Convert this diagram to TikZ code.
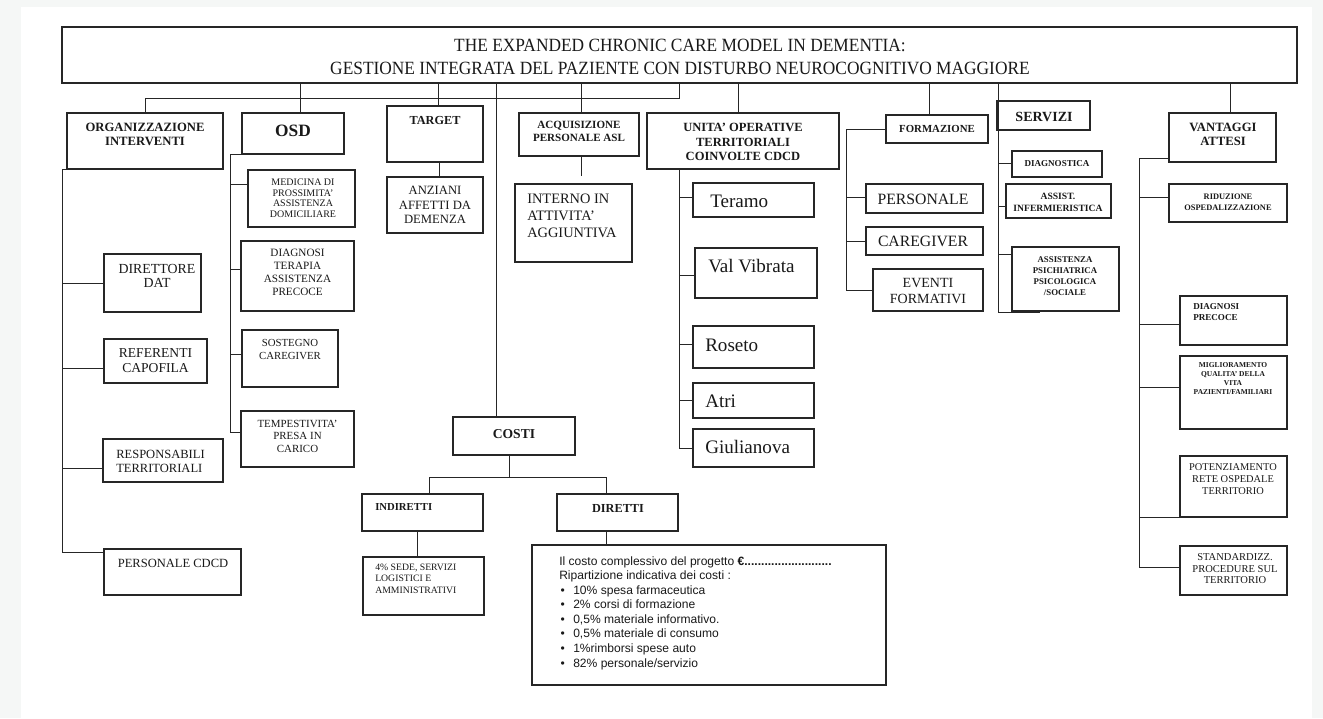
\documentclass[tikz,border=0pt]{standalone}
\usepackage{fontspec}
\setmainfont{Liberation Serif}
\newfontfamily\titlefont[FakeStretch=0.93]{Liberation Serif}
\newfontfamily\sansf{Liberation Sans}
\usetikzlibrary{fit,calc}
\definecolor{bgcol}{HTML}{F5F7F6}
\tikzset{
  box/.style={draw=black!85, line width=0.8pt, inner sep=0pt},
  conn/.style={draw=black!85, line width=0.7pt},
  lbl/.style={inner sep=0pt, align=center, text=black!90},
}
\newcommand\bx[5]{\node[box, fit={(#2,#3) (#4,#5)}] (#1) {};}
\newcommand\branch[3]{\path (#2) ++(0,#3) coordinate (bt); \draw[conn] (bt) -- (bt -| #1);}
\begin{document}
\begin{tikzpicture}[x=0.75pt,y=-0.75pt]
\useasboundingbox (0,0) rectangle (1323,718);
\fill[bgcol] (0,0) rectangle (1323,718);
\fill[white] (21,7) rectangle (1312,718);
% boxes
\bx{title}{62}{27}{1297}{83}
\bx{org}{67}{113}{223}{169}
\bx{osd}{242}{113}{344}{154}
\bx{target}{387}{106}{483}{162}
\bx{anz}{387}{177}{483}{233}
\bx{acq}{519}{113}{639}{156}
\bx{int}{515}{184}{632}{262}
\bx{unita}{647}{113}{839}{169}
\bx{teramo}{693}{183}{814}{217}
\bx{valv}{695}{248}{817}{298}
\bx{roseto}{693}{326}{814}{368}
\bx{atri}{693}{383}{814}{418}
\bx{giul}{693}{429}{814}{467}
\bx{form}{886}{115}{988}{143}
\bx{fpers}{866}{184}{983}{213}
\bx{fcare}{866}{227}{983}{255}
\bx{fevent}{873}{269}{983}{311}
\bx{serv}{997}{101}{1090}{130}
\bx{sdiag}{1012}{151}{1102}{177}
\bx{sinf}{1006}{184}{1111}{218}
\bx{spsi}{1012}{247}{1119}{311}
\bx{vant}{1169}{113}{1276}{162}
\bx{vrid}{1169}{184}{1287}{222}
\bx{vdiag}{1180}{296}{1287}{345}
\bx{vmig}{1180}{356}{1287}{429}
\bx{vpot}{1180}{456}{1287}{517}
\bx{vstd}{1180}{546}{1287}{595}
\bx{dir}{104}{254}{201}{312}
\bx{ref}{104}{339}{207}{383}
\bx{resp}{103}{439}{223}{482}
\bx{pcdcd}{104}{549}{241}{595}
\bx{med}{248}{170}{355}{227}
\bx{dtap}{241}{241}{354}{311}
\bx{sost}{242}{330}{338}{387}
\bx{temp}{241}{411}{354}{467}
\bx{costi}{453}{417}{575}{455}
\bx{ind}{362}{494}{483}{531}
\bx{dirt}{557}{494}{678}{531}
\bx{sede}{363}{557}{484}{615}
\bx{big}{532}{545}{886}{685}
% connectors from title
\draw[conn] (title.south -| 679,0) -- ++(0,15) -| (org.north);
\draw[conn] (title.south -| 300,0) -- (osd.north -| 300,0);
\draw[conn] (title.south -| 438,0) -- (target.north -| 438,0);
\draw[conn] (title.south -| 496,0) -- (costi.north -| 496,0);
\draw[conn] (title.south -| 581,0) -- (acq.north -| 581,0);
\draw[conn] (title.south -| 738,0) -- (unita.north -| 738,0);
\draw[conn] (title.south -| 929,0) -- (form.north -| 929,0);
\draw[conn] (title.south -| 1230,0) -- (vant.north -| 1230,0);
\coordinate (servsp) at (998,312);
\coordinate (servend) at (1040,312);
\draw[conn] (title.south -| servsp) -- (servsp) -- (servend);
% organizzazione
\coordinate (orgsp) at (62,552);
\draw[conn] (org.south west) -- (org.south west -| orgsp) -- (orgsp) -- (orgsp -| pcdcd.west);
\branch{orgsp}{dir.west}{0}
\branch{orgsp}{ref.west}{7}
\branch{orgsp}{resp.west}{7.5}
% osd
\coordinate (osdsp) at (230,432);
\draw[conn] (osd.south west) -- (osd.south west -| osdsp) -- (osdsp) -- (osdsp -| temp.west);
\branch{osdsp}{med.west}{-14.5}
\branch{osdsp}{dtap.west}{-7}
\branch{osdsp}{sost.west}{-4.5}
% target, acq
\draw[conn] (target.south -| 439,0) -- (anz.north -| 439,0);
\coordinate (acqend) at (581,176);
\draw[conn] (acq.south -| acqend) -- (acqend);
% unita
\coordinate (unsp) at (679,448);
\draw[conn] (unita.south -| unsp) -- (unsp) -- (unsp -| giul.west);
\branch{unsp}{teramo.west}{-3}
\branch{unsp}{valv.west}{2}
\branch{unsp}{roseto.west}{-3}
\branch{unsp}{atri.west}{0}
% formazione
\coordinate (fsp) at (846,290);
\draw[conn] (form.west) -- (form.west -| fsp) -- (fsp) -- (fsp -| fevent.west);
\branch{fsp}{fpers.west}{-1}
\branch{fsp}{fcare.west}{0}
% servizi
\branch{servsp}{sdiag.west}{-1}
\branch{servsp}{sinf.west}{5}
\branch{servsp}{spsi.west}{-25}
% vantaggi
\coordinate (vsp) at (1139,567);
\draw[conn] (vant.south west) ++(0,-4) coordinate (vtop) -- (vtop -| vsp) -- (vsp) -- (vsp -| vstd.west);
\branch{vsp}{vrid.west}{-6}
\branch{vsp}{vdiag.west}{3.5}
\branch{vsp}{vmig.west}{-5.5}
\branch{vsp}{vpot.south west}{0}
% costi
\coordinate (cmid) at (509,477);
\draw[conn] (costi.south -| cmid) -- (cmid);
\draw[conn] (ind.north -| 429,0) -- (cmid -| 429,0) -- (cmid -| 606,0) -- (dirt.north -| 606,0);
\draw[conn] (ind.south -| 417,0) -- (sede.north -| 417,0);
\draw[conn] (dirt.south -| 606,0) -- (big.north -| 606,0);
% texts
\node[lbl, font=\titlefont\fontsize{14}{17.25}\selectfont] (t-title) at (680,56.5) {THE EXPANDED CHRONIC CARE MODEL IN DEMENTIA:\\GESTIONE INTEGRATA DEL PAZIENTE CON DISTURBO NEUROCOGNITIVO MAGGIORE};
\node[lbl, font=\bfseries\fontsize{9.5}{10.5}\selectfont] (t-org) at (145,134) {ORGANIZZAZIONE\\INTERVENTI};
\node[lbl, font=\bfseries\fontsize{13}{16}\selectfont] (t-osd) at (293,131) {OSD};
\node[lbl, font=\bfseries\fontsize{9.2}{10}\selectfont] (t-target) at (435,120) {TARGET};
\node[lbl, font=\fontsize{9.5}{10.9}\selectfont] (t-anz) at (435,205) {ANZIANI\\AFFETTI DA\\DEMENZA};
\node[lbl, font=\bfseries\fontsize{8.3}{9.75}\selectfont] (t-acq) at (579,131.5) {ACQUISIZIONE\\PERSONALE ASL};
\node[lbl, align=left, anchor=west, font=\fontsize{10.8}{13}\selectfont] (t-int) at (527,216) {INTERNO IN\\ATTIVITA'\\AGGIUNTIVA};
\node[lbl, font=\bfseries\fontsize{9.4}{10.9}\selectfont] (t-unita) at (743,142) {UNITA' OPERATIVE\\TERRITORIALI\\COINVOLTE CDCD};
\node[lbl, anchor=west, font=\fontsize{14.3}{16}\selectfont] (t-teramo) at (710,201) {Teramo};
\node[lbl, anchor=west, font=\fontsize{14.3}{16}\selectfont] (t-valv) at (708,266) {Val Vibrata};
\node[lbl, anchor=west, font=\fontsize{14.3}{16}\selectfont] (t-roseto) at (705,345) {Roseto};
\node[lbl, anchor=west, font=\fontsize{14.3}{16}\selectfont] (t-atri) at (705,401) {Atri};
\node[lbl, anchor=west, font=\fontsize{14.3}{16}\selectfont] (t-giul) at (705,447) {Giulianova};
\node[lbl, font=\bfseries\fontsize{8.1}{9}\selectfont] (t-form) at (937,129) {FORMAZIONE};
\node[lbl, font=\fontsize{11.8}{13}\selectfont] (t-fpers) at (923,199) {PERSONALE};
\node[lbl, font=\fontsize{11.8}{13}\selectfont] (t-fcare) at (923,241) {CAREGIVER};
\node[lbl, font=\fontsize{10.5}{12}\selectfont] (t-fevent) at (928,291) {EVENTI\\FORMATIVI};
\node[lbl, font=\bfseries\fontsize{10.5}{12}\selectfont] (t-serv) at (1044,117) {SERVIZI};
\node[lbl, font=\bfseries\fontsize{6.8}{8}\selectfont] (t-sdiag) at (1057,164) {DIAGNOSTICA};
\node[lbl, font=\bfseries\fontsize{7.2}{9}\selectfont] (t-sinf) at (1058,202) {ASSIST.\\INFERMIERISTICA};
\node[lbl, font=\bfseries\fontsize{6.6}{8.25}\selectfont] (t-spsi) at (1065,276.5) {ASSISTENZA\\PSICHIATRICA\\PSICOLOGICA\\/SOCIALE};
\node[lbl, font=\bfseries\fontsize{9.5}{11}\selectfont] (t-vant) at (1223,134.5) {VANTAGGI\\ATTESI};
\node[lbl, font=\bfseries\fontsize{6.3}{8.25}\selectfont] (t-vrid) at (1228,202) {RIDUZIONE\\OSPEDALIZZAZIONE};
\node[lbl, align=left, anchor=west, font=\bfseries\fontsize{6.8}{8.25}\selectfont] (t-vdiag) at (1193,312.5) {DIAGNOSI\\PRECOCE};
\node[lbl, font=\bfseries\fontsize{5.6}{6.75}\selectfont] (t-vmig) at (1233,379) {MIGLIORAMENTO\\QUALITA' DELLA\\VITA\\PAZIENTI/FAMILIARI};
\node[lbl, font=\fontsize{7.8}{9}\selectfont] (t-vpot) at (1233,479) {POTENZIAMENTO\\RETE OSPEDALE\\TERRITORIO};
\node[lbl, font=\fontsize{7.9}{8.6}\selectfont] (t-vstd) at (1235,569) {STANDARDIZZ.\\PROCEDURE SUL\\TERRITORIO};
\node[lbl, font=\bfseries\fontsize{10.2}{11}\selectfont] (t-costi) at (514,434) {COSTI};
\node[lbl, anchor=west, font=\bfseries\fontsize{8}{9}\selectfont] (t-ind) at (375,507) {INDIRETTI};
\node[lbl, font=\bfseries\fontsize{9.2}{10}\selectfont] (t-dirt) at (618,508) {DIRETTI};
\node[lbl, align=left, anchor=west, font=\fontsize{7.3}{8.6}\selectfont] (t-sede) at (375,578.5) {4\% SEDE, SERVIZI\\LOGISTICI E\\AMMINISTRATIVI};
\node[lbl, font=\fontsize{10.4}{10.5}\selectfont] (t-dir) at (157,276) {DIRETTORE\\DAT};
\node[lbl, font=\fontsize{10.2}{11.25}\selectfont] (t-ref) at (155.5,360.5) {REFERENTI\\CAPOFILA};
\node[lbl, align=left, anchor=west, font=\fontsize{9.4}{10.5}\selectfont] (t-resp) at (116,461) {RESPONSABILI\\TERRITORIALI};
\node[lbl, font=\fontsize{9.4}{12}\selectfont] (t-pcdcd) at (173,563) {PERSONALE CDCD};
\node[lbl, font=\fontsize{7.5}{7.9}\selectfont] (t-med) at (303,198) {MEDICINA DI\\PROSSIMITA'\\ASSISTENZA\\DOMICILIARE};
\node[lbl, font=\fontsize{8.4}{9.75}\selectfont] (t-dtap) at (297.5,272.5) {DIAGNOSI\\TERAPIA\\ASSISTENZA\\PRECOCE};
\node[lbl, font=\fontsize{8.1}{9.75}\selectfont] (t-sost) at (290,349.5) {SOSTEGNO\\CAREGIVER};
\node[lbl, font=\fontsize{8.2}{9.4}\selectfont] (t-temp) at (297.5,436) {TEMPESTIVITA'\\PRESA IN\\CARICO};
\node[lbl, align=left, anchor=west, font=\sansf\fontsize{9.05}{10.93}\selectfont] (t-big) at (559,613) {Il costo complessivo del progetto \textbf{€..........................}\\
Ripartizione indicativa dei costi :\\
\makebox[10.5pt][l]{\hspace{1pt}\textbullet}10\% spesa farmaceutica\\
\makebox[10.5pt][l]{\hspace{1pt}\textbullet}2\% corsi di formazione\\
\makebox[10.5pt][l]{\hspace{1pt}\textbullet}0,5\% materiale informativo.\\
\makebox[10.5pt][l]{\hspace{1pt}\textbullet}0,5\% materiale di consumo\\
\makebox[10.5pt][l]{\hspace{1pt}\textbullet}1\%rimborsi spese auto\\
\makebox[10.5pt][l]{\hspace{1pt}\textbullet}82\% personale/servizio};
\end{tikzpicture}
\end{document}
